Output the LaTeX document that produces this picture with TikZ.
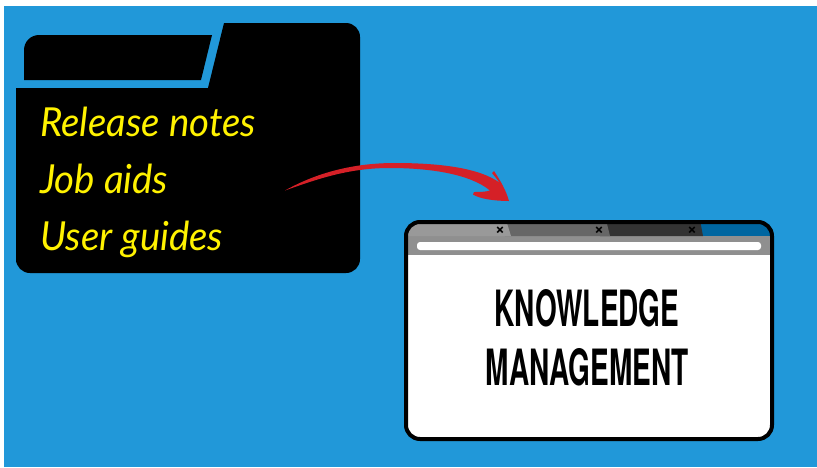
\documentclass[tikz,border=0pt]{standalone}
\usepackage{fontspec}
\newfontfamily\handfont[FakeStretch=0.96]{Lato Italic}
\newfontfamily\headfont[FakeStretch=0.56]{TeX Gyre Heros Bold}
\newfontfamily\markfont{TeX Gyre Heros Bold}
\definecolor{skyblue}{RGB}{33,152,217}
\definecolor{swoosh}{RGB}{213,32,39}
\definecolor{tabblue}{RGB}{0,102,160}
\tikzset{
	handtext/.style={text=yellow,anchor=base west,inner sep=0pt,font=\handfont\fontsize{40}{40}\selectfont},
	headtext/.style={text=black,anchor=base,inner sep=0pt,font=\headfont\fontsize{50}{50}\selectfont},
	closemark/.style={text=black,inner sep=0pt,font=\markfont\fontsize{17}{17}\selectfont}
}
\begin{document}
\begin{tikzpicture}[x=1pt,y=-1pt]
	\useasboundingbox (0,0) rectangle (817,467);
	\fill[skyblue] (4,6) rectangle (817,467);
	% folder
	\fill[black,rounded corners=14pt] (224,23) [sharp corners] -- (224,23) [rounded corners=14pt] -- (360,23) -- (360,273) -- (16,273) [sharp corners] -- (16,262) -- (16,88) -- (208,88) -- cycle;
	\fill[black] (24,80) [rounded corners=15pt] -- (24,35) [sharp corners] -- (212,35) -- (201,80) -- cycle;
	\node[handtext] (notes) at (40,136) {Release notes};
	\node[handtext] (aids) at (40,193) {Job aids};
	\node[handtext] (guides) at (40,250) {User guides};
	% window
	\begin{scope}
		\clip[rounded corners=14pt] (406,222) rectangle (772,439);
		\fill[white] (404,254) rectangle (774,441);
		\fill[gray!88] (404,236) rectangle (774,255);
		\fill[tabblue] (690,220) rectangle (774,236);
		\fill[black!80] (600,220) -- (700,220) -- (703,236) -- (600,236) -- cycle;
		\fill[black!60] (505,220) -- (606,220) -- (610,236) -- (505,236) -- cycle;
		\fill[black!40] (404,220) -- (506,220) -- (511,236) -- (404,236) -- cycle;
	\end{scope}
	\fill[white,rounded corners=3pt] (417,242) rectangle (761,250);
	\draw[black,line width=4pt,rounded corners=14pt] (406,222) rectangle (772,439);
	\node[closemark] (closea) at (500,231) {×};
	\node[closemark] (closeb) at (599,231) {×};
	\node[closemark] (closec) at (692,231) {×};
	\node[headtext] (know) at (587,326) {KNOWLEDGE};
	\node[headtext] (manage) at (587,385) {MANAGEMENT};
	% arrow
	\coordinate (curvestart) at (285,190.5);
	\coordinate (curvetip) at (509,201);
	\fill[swoosh] (curvestart) .. controls (325,168) and (365,163) .. (395,163) .. controls (440,163) and (480,168) .. (500,183) -- (492,173) -- (494,171) .. controls (500,180) and (506,190) .. (curvetip) .. controls (495,201) and (480,199) .. (473,194.5) -- (474,192) .. controls (480,192) and (485,192) .. (490,190.5) .. controls (470,174) and (430,168) .. (390,168) .. controls (350,168) and (320,178) .. (curvestart) -- cycle;
\end{tikzpicture}
\end{document}
